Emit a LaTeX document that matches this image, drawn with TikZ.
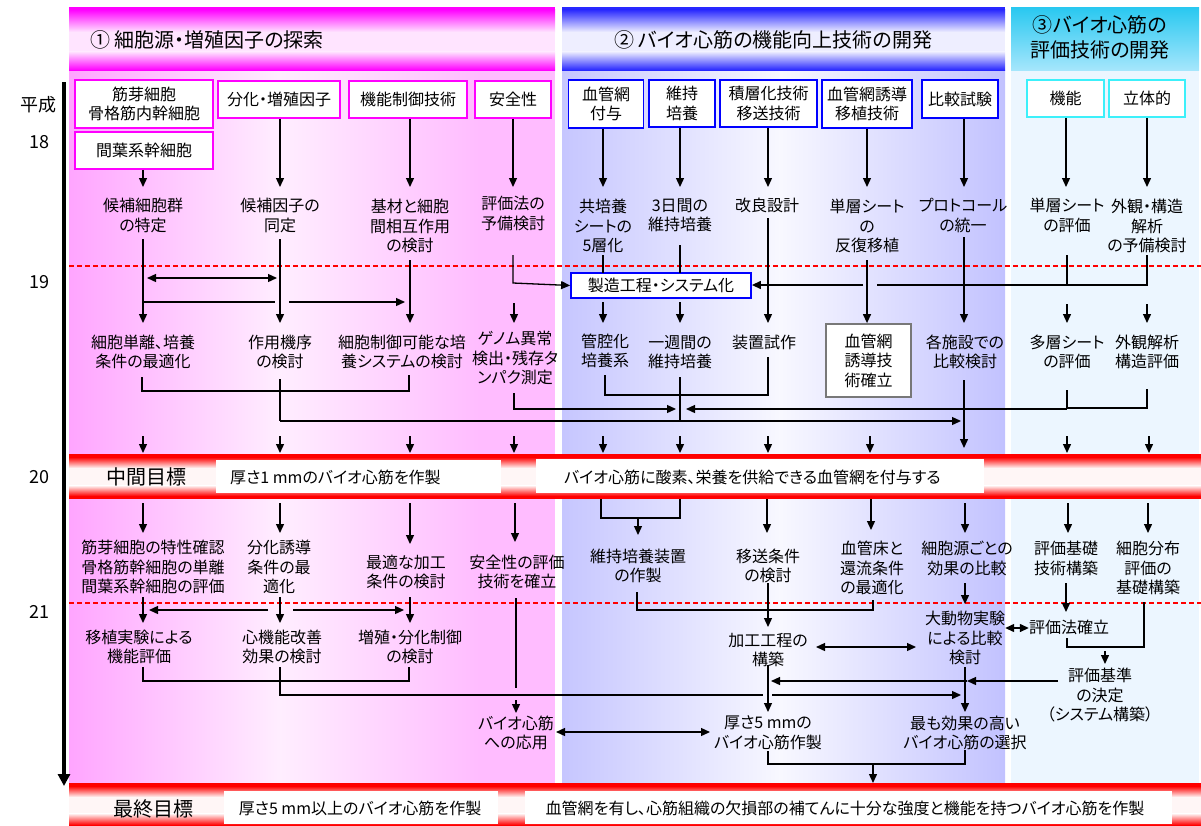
\documentclass[tikz,border=0pt]{standalone}
\usepackage{fontspec}
\setmainfont{Noto Sans CJK JP}[RawFeature=+palt]
\usetikzlibrary{arrows.meta}
\definecolor{magA}{RGB}{255,0,255}
\definecolor{magP}{RGB}{255,228,255}
\definecolor{bluA}{RGB}{40,40,255}
\definecolor{bluP}{RGB}{238,238,255}
\definecolor{cyT}{RGB}{40,200,240}
\definecolor{cyB}{RGB}{165,230,252}
\definecolor{pkL}{RGB}{255,165,255}
\definecolor{pkM}{RGB}{255,238,255}
\definecolor{pkR}{RGB}{255,188,255}
\definecolor{lvL}{RGB}{198,198,255}
\definecolor{lvM}{RGB}{248,248,255}
\definecolor{lvR}{RGB}{194,194,255}
\definecolor{cthree}{RGB}{236,246,255}
\definecolor{redA}{RGB}{255,0,0}
\definecolor{redP}{RGB}{255,246,246}
\definecolor{cyanbox}{RGB}{60,240,250}
\definecolor{graybox}{RGB}{120,120,120}
\tikzset{
  t/.style={font=\fontsize{16}{19.5}\selectfont, align=center, inner sep=0pt},
  bx/.style={draw, line width=1.8pt, fill=white, align=center, inner sep=0pt, font=\fontsize{16}{19.5}\selectfont},
  mbx/.style={bx, draw=magA},
  bbx/.style={bx, draw=blue},
  cbx/.style={bx, draw=cyanbox},
  gbx/.style={bx, draw=graybox},
  wbx/.style={fill=white, inner sep=0pt},
  big/.style={font=\fontsize{20}{25}\selectfont, align=center, inner sep=0pt},
  tl/.style={font=\fontsize{18}{22}\selectfont, inner sep=0pt},
  arr/.style={line width=1.3pt, -{Triangle[length=9pt,width=8pt]}},
  darr/.style={line width=1.3pt, {Triangle[length=9pt,width=8pt]}-{Triangle[length=9pt,width=8pt]}},
  ln/.style={line width=1.3pt},
  bk/.style={line width=2pt},
  dsh/.style={draw=red, line width=1.1pt, dash pattern=on 5pt off 3pt}
}
\begin{document}
\begin{tikzpicture}[x=1pt,y=-1pt]
\useasboundingbox (0,0) rectangle (1201,825);
% column 1 body
\shade[left color=pkL, right color=pkM] (69,70) rectangle (281,783);
\shade[left color=pkM, right color=pkR] (280,70) rectangle (480,783);
\fill[pkR] (479,70) rectangle (555,783);
% column 2 body
\shade[left color=lvL, right color=lvM] (562,70) rectangle (781,783);
\shade[left color=lvM, right color=lvR] (780,70) rectangle (1005,783);
% column 3 body
\fill[cthree] (1011,70) rectangle (1199,783);
% header 1
\fill[magA] (69,7) rectangle (555,10);
\shade[top color=magA, bottom color=magP] (69,9.5) rectangle (555,32);
\fill[magP] (69,31.5) rectangle (555,52);
\shade[top color=magP, bottom color=magA] (69,51.5) rectangle (555,70);
% header 2
\fill[bluA] (562,7) rectangle (1005,10);
\shade[top color=bluA, bottom color=bluP] (562,9.5) rectangle (1005,32);
\fill[bluP] (562,31.5) rectangle (1005,52);
\shade[top color=bluP, bottom color=bluA] (562,51.5) rectangle (1005,70);
% header 3
\shade[top color=cyT, bottom color=cyB] (1011,7) rectangle (1199,70);
\node[big, anchor=west] (h1) at (90,40) {① 細胞源・増殖因子の探索};
\node[big] (h2) at (773,40) {② バイオ心筋の機能向上技術の開発};
\node[big] (h3) at (1100,37.5) {③バイオ心筋の\\評価技術の開発};
% year lines
\draw[dsh] (69,266) -- (1201,266);
\draw[dsh] (69,603) -- (1201,603);
% middle goal bar
\fill[redA] (69,454) rectangle (1201,457.5);
\shade[top color=redA, bottom color=redP] (69,457) rectangle (1201,468);
\fill[redP] (69,467.5) rectangle (1201,486);
\shade[top color=redP, bottom color=redA] (69,485.5) rectangle (1201,496);
\fill[redA] (69,495.5) rectangle (1201,499);
% final goal bar
\fill[redA] (69,783) rectangle (1201,786.5);
\shade[top color=redA, bottom color=redP] (69,786) rectangle (1201,797);
\fill[redP] (69,796.5) rectangle (1201,814);
\shade[top color=redP, bottom color=redA] (69,813.5) rectangle (1201,825);
\node[big] (mid) at (146,477) {中間目標};
\node[wbx, minimum width=285pt, minimum height=33pt] (g1) at (358.5,476.5) {};
\node[t, anchor=west] (g1t) at (230,477) {厚さ1 mmのバイオ心筋を作製};
\node[wbx, minimum width=448pt, minimum height=34pt] (g2) at (760,476) {};
\node[t, anchor=west] (g2t) at (564,477) {バイオ心筋に酸素、栄養を供給できる血管網を付与する};
\node[big] (fin) at (153,809) {最終目標};
\node[wbx, minimum width=274pt, minimum height=33pt] (f1) at (361,807.5) {};
\node[t] (f1t) at (360,808) {厚さ5 mm以上のバイオ心筋を作製};
\node[wbx, minimum width=647pt, minimum height=33pt] (f2) at (848.5,807.5) {};
\node[t] (f2t) at (845,808) {血管網を有し、心筋組織の欠損部の補てんに十分な強度と機能を持つバイオ心筋を作製};
% timeline
\node[tl] (yh) at (38,105) {平成};
\node[tl] (y18) at (39,142) {18};
\node[tl] (y19) at (39,282) {19};
\node[tl] (y20) at (39,477) {20};
\node[tl] (y21) at (39,612) {21};
\coordinate (tlA) at (64,82);
\coordinate (tlB) at (64,786);
\draw[line width=4pt, -{Triangle[length=12pt,width=12pt]}] (tlA) -- (tlB);
% top boxes
\node[mbx, minimum width=138pt, minimum height=48pt] (a1) at (144,104) {筋芽細胞\\骨格筋内幹細胞};
\node[mbx, minimum width=138pt, minimum height=37pt] (a1b) at (144,150.5) {間葉系幹細胞};
\node[mbx, minimum width=122pt, minimum height=37pt] (a2) at (279,99.5) {分化・増殖因子};
\node[mbx, minimum width=118pt, minimum height=37pt] (a3) at (408,99.5) {機能制御技術};
\node[mbx, minimum width=76pt, minimum height=37pt] (a4) at (513,99.5) {安全性};
\node[bbx, minimum width=75pt, minimum height=48pt] (b1) at (606,104) {血管網\\付与};
\node[bbx, minimum width=66pt, minimum height=47pt] (b2) at (682,103.5) {維持\\培養};
\node[bbx, minimum width=97pt, minimum height=47pt] (b3) at (768.5,103.5) {積層化技術\\移送技術};
\node[bbx, minimum width=90pt, minimum height=48pt] (b4) at (867,104) {血管網誘導\\移植技術};
\node[bbx, minimum width=76pt, minimum height=38pt] (b5) at (960,99) {比較試験};
\node[cbx, minimum width=77pt, minimum height=37pt] (c1) at (1065.5,98.5) {機能};
\node[cbx, minimum width=76pt, minimum height=37pt] (c2) at (1147,98.5) {立体的};
% row 18 results
\node[t] (r1a) at (143,215.5) {候補細胞群\\の特定};
\node[t] (r1b) at (280,215.5) {候補因子の\\同定};
\node[t] (r1c) at (410,226) {基材と細胞\\間相互作用\\の検討};
\node[t] (r1d) at (513,213.5) {評価法の\\予備検討};
\node[t] (r2a) at (603,226) {共培養\\シートの\\5層化};
\node[t] (r2b) at (680,215.5) {3日間の\\維持培養};
\node[t] (r2c) at (767,205) {改良設計};
\node[t] (r2d) at (867,226) {単層シート\\の\\反復移植};
\node[t] (r2e) at (963,215.5) {プロトコール\\の統一};
\node[t] (r3a) at (1067,215.5) {単層シート\\の評価};
\node[t] (r3b) at (1147,226) {外観・構造\\解析\\の予備検討};
% top arrows
\draw[arr] (a1b.south -| 143,0) -- (143,187);
\draw[arr] (a2.south -| 280,0) -- (280,187);
\draw[arr] (a3.south -| 410,0) -- (410,187);
\draw[arr] (a4.south) -- (513,187);
\draw[arr] (b1.south -| 603,0) -- (603,187);
\draw[arr] (b2.south -| 680,0) -- (680,187);
\draw[arr] (b3.south -| 768,0) -- (768,187);
\draw[arr] (b4.south) -- (867,187);
\draw[arr] (b5.south -| 964,0) -- (964,187);
\draw[arr] (c1.south -| 1066,0) -- (1066,187);
\draw[arr] (c2.south) -- (1147,187);
% row 19 nodes
\node[bbx, minimum width=180pt, minimum height=25pt] (sys) at (661,285.5) {製造工程・システム化};
\node[t] (s1a) at (143,352) {細胞単離、培養\\条件の最適化};
\node[t] (s1b) at (280,352) {作用機序\\の検討};
\node[t] (s1c) at (402,352) {細胞制御可能な培\\養システムの検討};
\node[t] (s1d) at (515,358) {ゲノム異常\\検出・残存タ\\ンパク測定};
\node[t] (s2a) at (605,351) {管腔化\\培養系};
\node[t] (s2b) at (680,352) {一週間の\\維持培養};
\node[t] (s2c) at (764,342) {装置試作};
\node[gbx, minimum width=85pt, minimum height=73pt] (s2d) at (868.5,360.5) {血管網\\誘導技\\術確立};
\node[t] (s2e) at (965,352) {各施設での\\比較検討};
\node[t] (s3a) at (1067,352) {多層シート\\の評価};
\node[t] (s3b) at (1147,352) {外観解析\\構造評価};
% row 18 -> 19 connectors
\draw[arr] (143,239) -- (143,323);
\draw[arr] (280,239) -- (280,323);
\draw[arr] (410,260) -- (410,323);
\draw[darr] (147,278) -- (277,278);
\draw[bk] (143,302) -- (275,302);
\draw[arr] (289,302) -- (405,302);
\draw[arr] (513,255) -- (513,283) -- (sys.west);
\draw[arr] (514,303) -- (514,323);
\draw[ln] (603,255) -- (603,273);
\draw[ln] (680,245) -- (680,273);
\draw[arr] (768,218) -- (768,323);
\draw[arr] (867,260) -- (s2d.north -| 867,0);
\draw[arr] (964,237) -- (964,323);
\draw[bk] (1067,255) -- (1067,285) -- (1147,285) -- (1147,255);
\draw[bk] (1067,285) -- (877,285);
\draw[arr] (863,285) -- (sys.east |- 0,285);
\draw[arr] (603,302) -- (603,323);
\draw[arr] (680,302) -- (680,323);
\draw[arr] (1067,304) -- (1067,323);
\draw[arr] (1147,304) -- (1147,323);
% row 19 -> middle goal
\draw[bk] (142,377) -- (142,391) -- (409,391) -- (409,375);
\draw[ln] (280,379) -- (280,421);
\draw[arr] (280,421) -- (961,421);
\draw[arr] (514,393) -- (514,409) -- (676,409);
\draw[bk] (605,375) -- (605,395) -- (768,395) -- (768,357);
\draw[ln] (680,377) -- (680,421);
\draw[bk] (1067,390) -- (1067,408) -- (1147,408) -- (1147,389);
\draw[arr] (1067,409) -- (686,409);
\draw[arr] (964,380) -- (964,448);
\foreach \xx in {143,280,410,514,603,680,768,870,1067,1149}
  \draw[arr] (\xx,436) -- (\xx,453);
% row 20 nodes
\node[t] (u1a) at (153,567) {筋芽細胞の特性確認\\骨格筋幹細胞の単離\\間葉系幹細胞の評価};
\node[t] (u1b) at (279,567) {分化誘導\\条件の最\\適化};
\node[t] (u1c) at (406,572) {最適な加工\\条件の検討};
\node[t] (u1d) at (517,572) {安全性の評価\\技術を確立};
\node[t] (u2a) at (638,566) {維持培養装置\\の作製};
\node[t] (u2b) at (768,566) {移送条件\\の検討};
\node[t] (u2c) at (872,568) {血管床と\\還流条件\\の最適化};
\node[t] (u2d) at (967,558.5) {細胞源ごとの\\効果の比較};
\node[t] (u3a) at (1066,558.5) {評価基礎\\技術構築};
\node[t] (u3b) at (1148,568) {細胞分布\\評価の\\基礎構築};
% middle goal -> row 20
\draw[arr] (143,503) -- (143,533);
\draw[arr] (280,503) -- (280,533);
\draw[arr] (410,503) -- (410,544);
\draw[arr] (515,503) -- (515,542);
\draw[bk] (601,499) -- (601,518) -- (680,518) -- (680,499);
\draw[arr] (638,518) -- (638,535);
\draw[arr] (767,499) -- (767,533);
\draw[arr] (871,499) -- (871,530);
\draw[arr] (965,503) -- (965,533);
\draw[arr] (1068,503) -- (1068,533);
\draw[arr] (1148,503) -- (1148,533);
% row 21 nodes
\node[t] (v1a) at (139,647) {移植実験による\\機能評価};
\node[t] (v1b) at (282,647) {心機能改善\\効果の検討};
\node[t] (v1c) at (410,647) {増殖・分化制御\\の検討};
\node[t] (v1d) at (516,733) {バイオ心筋\\への応用};
\node[t] (v2a) at (768,650) {加工工程の\\構築};
\node[t] (v2b) at (965,638) {大動物実験\\による比較\\検討};
\node[t] (v2c) at (768,733) {厚さ5 mmの\\バイオ心筋作製};
\node[t] (v2d) at (965,733) {最も効果の高い\\バイオ心筋の選択};
\node[t] (v3a) at (1069,627) {評価法確立};
\node[t] (v3b) at (1100,695) {評価基準\\の決定\\（システム構築）};
% row 20 -> 21 connectors
\draw[arr] (143,597) -- (143,623);
\draw[arr] (280,597) -- (280,623);
\draw[arr] (410,597) -- (410,623);
\draw[arr] (268,610) -- (149,610);
\draw[arr] (293,610) -- (404,610);
\draw[bk] (516,598) -- (516,688);
\draw[bk] (637,592) -- (637,610) -- (873,610) -- (873,600);
\draw[arr] (768,583) -- (768,627);
\draw[arr] (965,583) -- (965,604);
\draw[arr] (1066,583) -- (1066,612);
\draw[bk] (1144,602) -- (1144,647) -- (1067,647) -- (1067,638);
\draw[arr] (1105,651) -- (1105,664);
\draw[darr] (v2b.east |- 0,628) -- (v3a.west |- 0,628);
\draw[darr] (816,647) -- (916,647);
\draw[arr] (965,667) -- (965,712);
\draw[arr] (768,665) -- (768,712);
\draw[arr] (1058,681) -- (967,681);
\draw[arr] (967,681) -- (771,681);
\draw[bk] (143,667) -- (143,681) -- (409,681) -- (409,667);
\draw[bk] (280,667) -- (280,695) -- (763,695);
\draw[arr] (772,695) -- (961,695);
\draw[arr] (516,700) -- (516,713);
\draw[darr] (556,732) -- (710,732);
\draw[bk] (768,751) -- (768,764) -- (965,764) -- (965,750);
\draw[arr] (873,764) -- (873,783);
\end{tikzpicture}
\end{document}
